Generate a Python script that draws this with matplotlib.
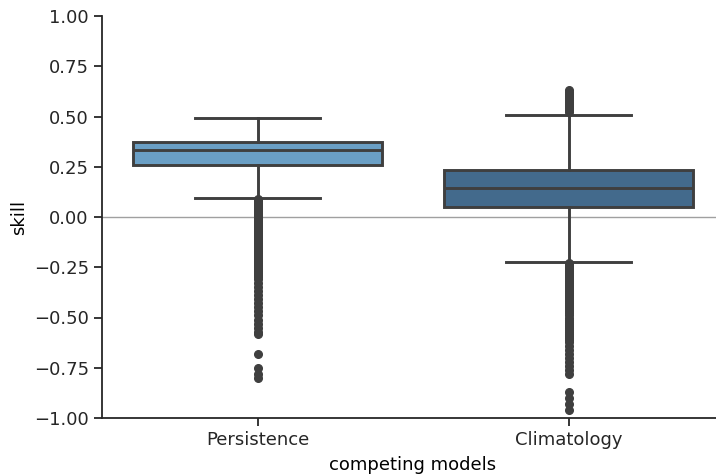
import matplotlib
matplotlib.use("Agg")
import matplotlib.pyplot as plt

# categories and box statistics
models = ["Persistence", "Climatology"]
box_colors = ["#6a9fc5", "#436a8c"]

q1 = [0.259, 0.048]
med = [0.332, 0.146]
q3 = [0.373, 0.232]
whislo = [0.093, -0.224]
whishi = [0.493, 0.509]

persistence_fliers = [
    0.09, 0.08, 0.07, 0.06, 0.05, 0.04, 0.03, 0.02, 0.01, 0.00,
    -0.01, -0.02, -0.03, -0.04, -0.05, -0.06, -0.07, -0.08, -0.09, -0.10,
    -0.11, -0.12, -0.13, -0.14, -0.15, -0.16, -0.17, -0.18, -0.19, -0.20,
    -0.21, -0.22, -0.23, -0.24, -0.25, -0.26, -0.27, -0.28, -0.29, -0.30,
    -0.31, -0.33, -0.35, -0.37, -0.39, -0.41, -0.43, -0.45, -0.47, -0.49,
    -0.51, -0.53, -0.55, -0.57, -0.58, -0.68, -0.75, -0.78, -0.80,
]
climatology_fliers = [
    0.52, 0.53, 0.54, 0.55, 0.56, 0.57, 0.58, 0.59, 0.60, 0.61, 0.62, 0.63,
    -0.23, -0.24, -0.25, -0.26, -0.27, -0.28, -0.29, -0.30, -0.31, -0.32,
    -0.33, -0.34, -0.35, -0.36, -0.37, -0.38, -0.39, -0.40, -0.41, -0.42,
    -0.43, -0.44, -0.45, -0.46, -0.47, -0.48, -0.49, -0.50, -0.51, -0.52,
    -0.53, -0.54, -0.55, -0.56, -0.57, -0.58, -0.59, -0.60, -0.61, -0.62,
    -0.64, -0.66, -0.68, -0.70, -0.72, -0.74, -0.76, -0.78,
    -0.87, -0.90, -0.93, -0.96,
]
fliers = [persistence_fliers, climatology_fliers]

stats = []
for i in range(len(models)):
    stats.append(dict(label=models[i], q1=q1[i], med=med[i], q3=q3[i],
                      whislo=whislo[i], whishi=whishi[i], fliers=fliers[i]))

plt.rcParams["font.size"] = 13
fig = plt.figure(figsize=(7.16, 4.75), dpi=100)
ax = fig.add_axes([102 / 716, 57 / 475, 622 / 716, 402 / 475])

edge = "#3f3f3f"
lw = 2.1
bp = ax.bxp(stats, positions=[0, 1], widths=0.8, patch_artist=True,
            boxprops=dict(edgecolor=edge, linewidth=lw),
            medianprops=dict(color=edge, linewidth=lw),
            whiskerprops=dict(color=edge, linewidth=lw),
            capprops=dict(color=edge, linewidth=lw),
            flierprops=dict(marker="o", markersize=5.5, markerfacecolor=edge,
                            markeredgecolor=edge),
            zorder=3)
for patch, c in zip(bp["boxes"], box_colors):
    patch.set_facecolor(c)

ax.axhline(0, color="#a0a0a0", linewidth=1, zorder=1)

ax.set_xlim(-0.5, 1.5)
ax.set_ylim(-1, 1)
ax.set_yticks([-1, -0.75, -0.5, -0.25, 0, 0.25, 0.5, 0.75, 1])
ax.set_yticklabels(["\u22121.00", "\u22120.75", "\u22120.50", "\u22120.25",
                    "0.00", "0.25", "0.50", "0.75", "1.00"])
ax.set_xticks([0, 1])
ax.set_xticklabels(models)
ax.set_ylabel("skill")
ax.set_xlabel("competing models", labelpad=5)

ax.spines["top"].set_visible(False)
ax.spines["right"].set_visible(False)
for s in ["left", "bottom"]:
    ax.spines[s].set_color("#262626")
    ax.spines[s].set_linewidth(1.3)
ax.tick_params(colors="#262626", width=1.3, length=6)

fig.savefig("out.png", dpi=100)
